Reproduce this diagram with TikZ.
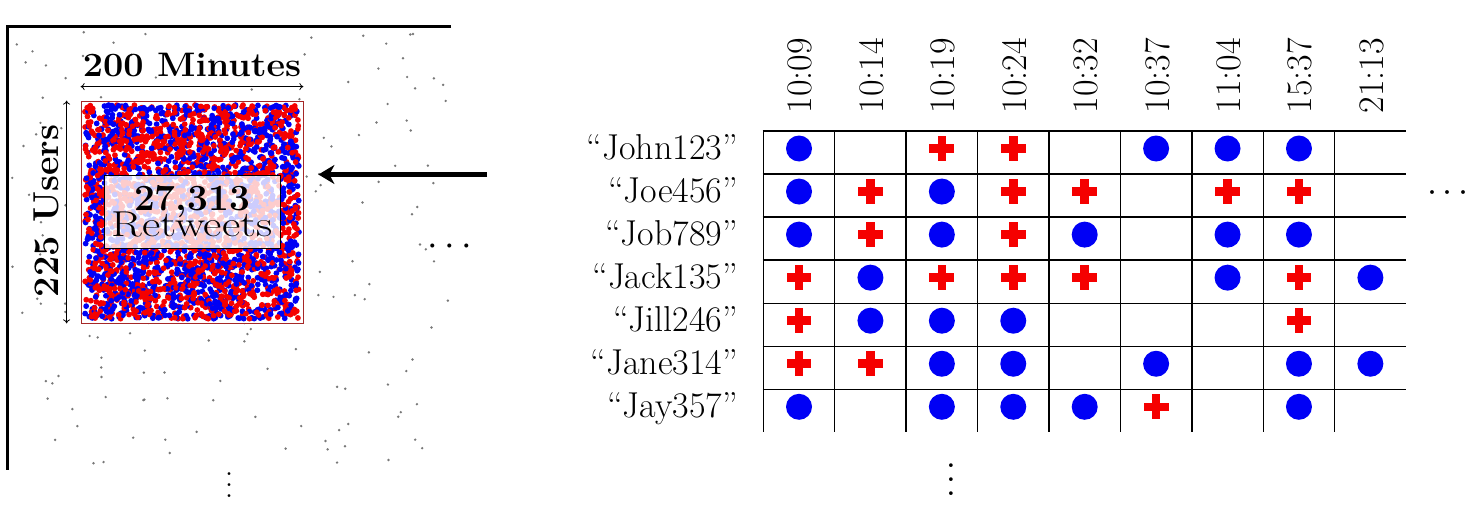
\documentclass[tikz,border=0pt]{standalone}
\usepackage{fontspec}
\usetikzlibrary{arrows.meta}
\definecolor{myblue}{RGB}{0,0,245}
\definecolor{myred}{RGB}{245,0,0}
\definecolor{boxred}{RGB}{165,40,40}
\definecolor{scat}{RGB}{120,120,120}
\begin{document}
\begin{tikzpicture}[x=1pt,y=-1pt,
  lbl/.style={font=\fontsize{36}{42}\selectfont, inner sep=0pt},
  bluedot/.style={circle, fill=myblue, minimum size=26pt, inner sep=0pt},
  plusm/.pic={\fill[myred] (-12.4,-4.3) rectangle (12.4,4.3);
              \fill[myred] (-4.3,-12.4) rectangle (4.3,12.4);},
  gridline/.style={line width=1.4pt},
  dimarrow/.style={{To[length=4pt,width=7pt]}-{To[length=4pt,width=7pt]}, line width=0.8pt},
  bigarrow/.style={line width=5pt, -{Stealth[length=16pt,width=19pt,inset=5pt]}},
  frameline/.style={line width=3pt}]
\useasboundingbox (0,0) rectangle (1479,516);

% ---------- left panel ----------
\pgfmathsetseed{4242}
\fill[scat] foreach \i in {1,...,175} {({12+438*rnd},{32+436*rnd}) circle (1.35pt)};
\draw[frameline] (451,26.5) -- (7.5,26.5) -- (7.5,470);

\fill[white] (81,101) rectangle (303,323);
\foreach \c in {myblue,myred,myblue,myred,myblue,myred,myblue,myred,myblue,myred}{
  \fill[\c] foreach \i in {1,...,330} {({85+214*rnd},{105+214*rnd}) circle (2.9pt)};
}
\node (sq) [draw=boxred, line width=0.8pt, minimum width=222pt, minimum height=222pt, inner sep=0pt] at (192,212) {};

\draw[dimarrow] ([yshift=14pt]sq.north west) -- ([yshift=14pt]sq.north east);
\draw[dimarrow] ([xshift=-14pt]sq.north west) -- ([xshift=-14pt]sq.south west);
\node (min) [inner sep=0pt, anchor=base, font=\fontsize{34}{40}\selectfont\bfseries] at (192,77) {\scalebox{1.06}[1]{200 Minutes}};
\node (usr) [inner sep=0pt, anchor=base, rotate=90, font=\fontsize{36}{40}\selectfont\bfseries] at (58,211) {225 Users};

\node (rt) [draw, line width=0.8pt, fill=white, fill opacity=0.8, minimum width=176pt, minimum height=73pt, inner sep=0pt] at (192,211.5) {};
\node (num) [inner sep=0pt, anchor=base, font=\fontsize{37}{40}\selectfont\bfseries] at (192,210) {27,313};
\node (rtw) [inner sep=0pt, anchor=base, font=\fontsize{36}{40}\selectfont] at (192,236.5) {\scalebox{1.25}[1]{Retweets}};

\coordinate (arrS) at (487,174.5);
\draw[bigarrow, shorten >=15pt] (arrS) -- (sq.east |- arrS);

\node (hd1) [inner sep=0pt] at (450,247) {\scalebox{3.8}{$\cdots$}};
\node (vd1) [inner sep=0pt] at (229,477) {\scalebox{2.7}{$\vdots$}};

% ---------- grid ----------
\foreach \i in {0,...,8}{
  \draw[gridline] ({763.3+71.42*\i},130.3) -- ({763.3+71.42*\i},432);
}
\foreach \j in {0,...,6}{
  \draw[gridline] (762.6,{131+43.05*\j}) -- (1405.7,{131+43.05*\j});
}

\foreach \t [count=\c] in {10:09,10:14,10:19,10:24,10:32,10:37,11:04,15:37,21:13}{
  \node (t\c) [lbl, rotate=90, anchor=west] at ({763.3+71.42*(\c-0.5)+1},113.5) {\t};
}
\foreach \n [count=\r] in {John123,Joe456,Job789,Jack135,Jill246,Jane314,Jay357}{
  \node (u\r) [lbl, anchor=base east] at (738,{159.5+43.05*(\r-1)}) {“\n”};
}

\foreach \r/\cols in {1/{1,6,7,8},2/{1,3},3/{1,3,5,7,8},4/{2,7,9},5/{2,3,4},6/{3,4,6,8,9},7/{1,3,4,5,8}}{
  \foreach \c in \cols {
    \node[bluedot] at ({763.3+71.42*(\c-0.5)},{148.5+43.05*(\r-1)}) {};
  }
}
\foreach \r/\cols in {1/{3,4},2/{2,4,5,7,8},3/{2,4},4/{1,3,4,5,8},5/{1,8},6/{1,2},7/{6}}{
  \foreach \c in \cols {
    \pic at ({763.3+71.42*(\c-0.5)},{148.5+43.05*(\r-1)}) {plusm};
  }
}

\node (hd2) [inner sep=0pt] at (1448,193) {\scalebox{3.6}{$\cdots$}};
\node (vd2) [inner sep=0pt] at (951,469) {\scalebox{3.5}{$\vdots$}};
\end{tikzpicture}
\end{document}
